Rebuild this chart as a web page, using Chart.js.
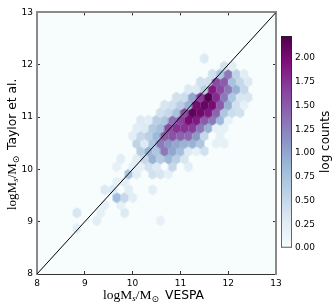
<!DOCTYPE html>
<html>
<head>
<meta charset="utf-8">
<script src="https://cdn.jsdelivr.net/npm/chart.js@4/dist/chart.umd.js"></script>
<style>
  html, body { margin: 0; padding: 0; background: #fff; }
  #wrap { position: relative; width: 336px; height: 308px; overflow: hidden; }
  #hexes { position: absolute; left: 0; top: 0; }
  #bar { position: absolute; left: 270px; top: 20px; }
</style>
</head>
<body>
<div id="wrap">
  <canvas id="hexes" width="336" height="308"></canvas>
  <canvas id="bar" width="66" height="240"></canvas>
</div>
<script>
// hexbin, one row per Taylor value, bottom to top
const binWidth = 1 / 6;
const taylorRows = [8.87, 9.02, 9.17, 9.32, 9.46, 9.61, 9.76, 9.91, 10.05, 10.2, 10.35, 10.495, 10.64, 10.79, 10.94, 11.085, 11.23, 11.38, 11.53, 11.675, 11.82, 11.97, 12.12];
const vespaStart = [8.833, 9.25, 8.833, 9.417, 9.667, 9.417, 9.667, 9.917, 9.667, 9.75, 10.167, 10.083, 10.0, 10.083, 10.167, 10.583, 10.667, 10.917, 11.167, 11.417, 11.667, 11.917, 11.5];
const logCounts = [
  [0.25],
  [0.25, 0, 0, 0, 0, 0, 0, 0, 0.2],
  [0.35, 0, 0, 0.2, 0, 0, 0.3],
  [0.2, 0, 0.2],
  [0.8, 0.5, 0.25],
  [0.3, 0.3, 0, 0.25, 0, 0, 0.25],
  [0.2, 0.25],
  [0.7, 0.25, 0, 0.4, 0.35, 0.2],
  [0.2, 0, 0.2, 0.2, 0.4, 0.3, 0, 0.5, 0, 0.25],
  [0.25, 0, 0.25, 0.5, 0.9, 0.65, 0.85, 0.6, 0.35],
  [0.6, 0.9, 0.7, 1.3, 1.0, 0.8, 0.3, 0.2, 0.4],
  [0.55, 0.3, 0.7, 1.3, 1.1, 1.0, 0.9, 0.9, 0.7, 0, 0.2, 0.2],
  [0.25, 0.5, 0.6, 0.85, 1.5, 1.55, 1.45, 1.4, 1.1, 0.5, 0, 0.2],
  [0.25, 0.3, 0.65, 0.8, 1.6, 1.75, 1.75, 1.7, 1.3, 0.9, 0.2, 0.2],
  [0.3, 0.25, 0.6, 0.7, 1.35, 1.65, 2.0, 1.9, 1.5, 1.3, 0.85, 0.2],
  [0.4, 0.5, 0.75, 1.6, 2.15, 2.05, 1.9, 1.45, 0.7, 0.45, 0.4],
  [0.35, 0.4, 0.6, 0.9, 2.0, 2.1, 2.0, 1.5, 0.9, 0.4, 0.2],
  [0.4, 0.45, 1.0, 1.7, 2.2, 1.8, 1.3, 0.7, 0.35, 0.35],
  [0.3, 0.3, 0.6, 1.9, 1.6, 1.3, 0.9, 0.5],
  [0.4, 0.4, 1.6, 1.5, 0.75, 0.5, 0.3],
  [0.4, 0.7, 1.3, 0.55, 0.25],
  [0.4, 0.25],
  [0.3]
];
const axisTicks = [8, 9, 10, 11, 12, 13];
const colorTicks = [0, 0.25, 0.5, 0.75, 1, 1.25, 1.5, 1.75, 2];
const colorMax = 2.23;
const bupu = ["#f7fcfd", "#e0ecf4", "#bfd3e6", "#9ebcda", "#8c96c6", "#8c6bb1", "#88419d", "#810f7c", "#4d004b"];

const sans = '"DejaVu Sans"';
const serif = '"Liberation Serif"';
const tickFont = { family: sans, size: 9 };

function hexToRgb(h) {
  return [1, 3, 5].map((i) => parseInt(h.substr(i, 2), 16));
}

function colorFor(v) {
  const t = Math.min(v / colorMax, 1) * (bupu.length - 1);
  const i = Math.min(Math.floor(t), bupu.length - 2);
  const a = hexToRgb(bupu[i]);
  const b = hexToRgb(bupu[i + 1]);
  const c = a.map((n, j) => Math.round(n + (b[j] - n) * (t - i)));
  return `rgb(${c[0]},${c[1]},${c[2]})`;
}

// chart.js has no hexagon point style, so hand it a small canvas per colour
const hexSprites = {};
function hexSprite(v) {
  if (hexSprites[v]) return hexSprites[v];
  const w = 10, h = 12;
  const c = document.createElement("canvas");
  c.width = w;
  c.height = h;
  const g = c.getContext("2d");
  g.translate(w / 2, h / 2);
  g.beginPath();
  g.moveTo(0, -5.4);
  g.lineTo(4.2, -2.7);
  g.lineTo(4.2, 2.7);
  g.lineTo(0, 5.4);
  g.lineTo(-4.2, 2.7);
  g.lineTo(-4.2, -2.7);
  g.closePath();
  g.fillStyle = colorFor(v);
  g.fill();
  hexSprites[v] = c;
  return c;
}

const hexPoints = [];
logCounts.forEach((row, r) => {
  row.forEach((v, i) => {
    if (v > 0) hexPoints.push({ x: vespaStart[r] + i * binWidth, y: taylorRows[r], v: v });
  });
});

// axis labels mix mathtext and plain text, so they go out run by run
function drawRuns(ctx, runs, x, y, angle) {
  ctx.save();
  ctx.translate(x, y);
  ctx.rotate(angle);
  ctx.fillStyle = "#000";
  ctx.textBaseline = "alphabetic";
  ctx.textAlign = "left";
  let cx = 0;
  runs.forEach((run) => {
    ctx.font = run.font;
    ctx.fillText(run.text, cx, run.dy || 0);
    cx += ctx.measureText(run.text).width;
  });
  ctx.restore();
}

const massRuns = (size, sub) => [
  { text: "logM", font: `${size}px ${serif}` },
  { text: sub, font: `italic 9px ${serif}`, dy: 2 },
  { text: "/M", font: `${size}px ${serif}` },
  { text: "\u2299", font: `9px ${sans}`, dy: 3 }
];

const axisTitles = {
  id: "axisTitles",
  afterDraw(chart) {
    const ctx = chart.ctx;
    drawRuns(ctx, massRuns(13.5, "s"), 103, 299, 0);
    drawRuns(ctx, [{ text: "VESPA", font: `12.3px ${sans}` }], 165, 299, 0);
    drawRuns(ctx, massRuns(13, "s"), 16, 210, -Math.PI / 2);
    drawRuns(ctx, [{ text: "Taylor et al.", font: `12.3px ${sans}` }], 16, 150, -Math.PI / 2);
  }
};

const fixSize = (size) => (scale) => {
  if (scale.isHorizontal()) scale.height = size;
  else scale.width = size;
};

const blankTicks = { callback: () => "", font: tickFont, padding: 0 };
const edge = { color: "#8a8a8a", width: 2 };
const axisGrid = { drawOnChartArea: false, tickLength: -3, color: "#000", tickWidth: 0.8 };

new Chart(document.getElementById("hexes"), {
  type: "scatter",
  data: {
    datasets: [
      {
        data: [{ x: 8, y: 8 }, { x: 13, y: 13 }],
        showLine: true,
        borderColor: "#000",
        borderWidth: 1,
        pointRadius: 0
      },
      {
        data: hexPoints,
        pointRadius: 5,
        pointStyle: (c) => hexSprite(c.raw.v)
      }
    ]
  },
  options: {
    responsive: false,
    animation: false,
    events: [],
    layout: { padding: 0 },
    plugins: {
      legend: { display: false },
      tooltip: { enabled: false }
    },
    scales: {
      x: {
        type: "linear", position: "bottom", min: 8, max: 13,
        afterBuildTicks: (s) => { s.ticks = axisTicks.map((value) => ({ value })); },
        afterFit: fixSize(34),
        grid: axisGrid,
        border: { color: "#333", width: 1 },
        ticks: { font: tickFont, color: "#000", padding: 7, maxRotation: 0 }
      },
      y: {
        type: "linear", position: "left", min: 8, max: 13,
        afterBuildTicks: (s) => { s.ticks = axisTicks.map((value) => ({ value })); },
        afterFit: fixSize(37),
        grid: axisGrid,
        border: edge,
        ticks: { font: tickFont, color: "#000", padding: 7 }
      },
      xTop: {
        type: "linear", position: "top", min: 8, max: 13,
        afterBuildTicks: (s) => { s.ticks = axisTicks.map((value) => ({ value })); },
        afterFit: fixSize(10),
        grid: axisGrid,
        border: edge,
        ticks: blankTicks
      },
      yRight: {
        type: "linear", position: "right", min: 8, max: 13,
        afterBuildTicks: (s) => { s.ticks = axisTicks.map((value) => ({ value })); },
        afterFit: fixSize(60),
        grid: axisGrid,
        border: edge,
        ticks: blankTicks
      }
    }
  },
  plugins: [
    {
      id: "panelFill",
      beforeDraw(chart) {
        const a = chart.chartArea;
        chart.ctx.fillStyle = bupu[0];
        chart.ctx.fillRect(a.left, a.top, a.right - a.left, a.bottom - a.top);
      }
    },
    axisTitles
  ]
});

new Chart(document.getElementById("bar"), {
  type: "bar",
  data: {
    labels: ["log counts"],
    datasets: [{
      data: [[0, colorMax]],
      barPercentage: 1,
      categoryPercentage: 1,
      borderColor: "#222",
      borderWidth: 1,
      borderSkipped: false,
      backgroundColor: (c) => {
        const a = c.chart.chartArea;
        if (!a) return bupu[4];
        const g = c.chart.ctx.createLinearGradient(0, a.bottom, 0, a.top);
        bupu.forEach((col, i) => g.addColorStop(i / (bupu.length - 1), col));
        return g;
      }
    }]
  },
  options: {
    responsive: false,
    animation: false,
    events: [],
    layout: { padding: { left: 11, top: 16, bottom: 12 } },
    plugins: { legend: { display: false }, tooltip: { enabled: false } },
    scales: {
      x: { display: false },
      y: {
        position: "right", min: 0, max: colorMax,
        afterBuildTicks: (s) => { s.ticks = colorTicks.map((value) => ({ value })); },
        afterFit: fixSize(44),
        grid: { drawOnChartArea: false, drawTicks: false },
        border: { display: false },
        ticks: { font: tickFont, color: "#000", padding: 3, callback: (v) => v.toFixed(2) }
      }
    }
  },
  plugins: [{
    id: "barTitle",
    afterDraw(chart) {
      drawRuns(chart.ctx, [{ text: "log counts", font: `12px ${sans}` }], 59, 153, -Math.PI / 2);
    }
  }]
});
</script>
</body>
</html>
